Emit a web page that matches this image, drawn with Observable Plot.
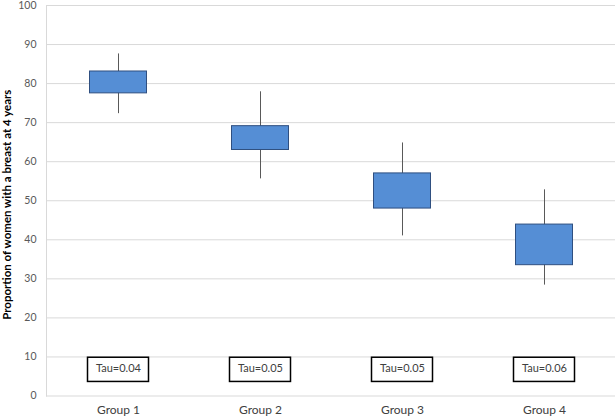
<!DOCTYPE html>
<html>
<head>
<meta charset="utf-8">
<script src="https://cdn.jsdelivr.net/npm/d3@7"></script>
<script src="https://cdn.jsdelivr.net/npm/@observablehq/plot@0.6"></script>
<style>
  html, body { margin: 0; padding: 0; background: #fff; }
  #chart svg { display: block; }
</style>
</head>
<body>
<div id="chart"></div>
<script>
const groups = ["Group 1", "Group 2", "Group 3", "Group 4"];
const whiskerLow = [72.3, 55.6, 41.0, 28.4];
const q1 = [77.5, 63.0, 48.0, 33.5];
const q3 = [83.1, 69.1, 57.0, 43.9];
const whiskerHigh = [87.6, 77.9, 64.8, 52.8];
const tauLabels = ["Tau=0.04", "Tau=0.05", "Tau=0.05", "Tau=0.06"];
const tauBoxLow = [3.6, 3.6, 3.6, 3.6];
const tauBoxHigh = [9.8, 9.8, 9.8, 9.8];
const yTicks = [0, 10, 20, 30, 40, 50, 60, 70, 80, 90, 100];
const yTitle = "Proportion of women with a breast at 4 years";

const data = groups.map((g, i) => ({
  group: g, lo: whiskerLow[i], q1: q1[i], q3: q3[i], hi: whiskerHigh[i],
  tau: tauLabels[i], tlo: tauBoxLow[i], thi: tauBoxHigh[i],
  tmid: (tauBoxLow[i] + tauBoxHigh[i]) / 2
}));

const chart = Plot.plot({
  width: 615,
  height: 418,
  marginLeft: 46,
  marginRight: 0,
  marginTop: 5,
  marginBottom: 22.5,
  style: { fontFamily: "Lato, 'Open Sans', sans-serif", background: "#fff" },
  x: { domain: groups, padding: 0, label: null },
  y: { domain: [0, 100], label: null },
  marks: [
    Plot.gridY(yTicks, { stroke: "#d9d9d9", strokeOpacity: 1, strokeWidth: 1 }),
    Plot.frame({ anchor: "left", stroke: "#d9d9d9", strokeWidth: 1 }),
    Plot.axisY({ ticks: yTicks, tickSize: 0, tickPadding: 10, fontSize: 10.5, color: "#595959", label: null }),
    Plot.axisX({ tickSize: 0, tickPadding: 9, fontSize: 12, color: "#404040", label: null }),
    Plot.ruleX(data, { x: "group", y1: "lo", y2: "hi", stroke: "#595959", strokeWidth: 1 }),
    Plot.barY(data, { x: "group", y1: "q1", y2: "q3", fill: "#558ED5", stroke: "#2F4F80", strokeWidth: 1, insetLeft: 42.5, insetRight: 42.5 }),
    Plot.barY(data, { x: "group", y1: "tlo", y2: "thi", fill: "#fff", stroke: "#000", strokeWidth: 1.5, insetLeft: 40.5, insetRight: 40.5 }),
    Plot.text(data, { x: "group", y: "tmid", text: "tau", fontSize: 11, fill: "#404040", dy: -1 }),
    Plot.text([yTitle], { frameAnchor: "left", textAnchor: "middle", lineAnchor: "middle", dx: -39, dy: 4, rotate: -90, fontSize: 11.5, fontWeight: "bold", fill: "#000" })
  ]
});
document.getElementById("chart").appendChild(chart);
</script>
</body>
</html>
